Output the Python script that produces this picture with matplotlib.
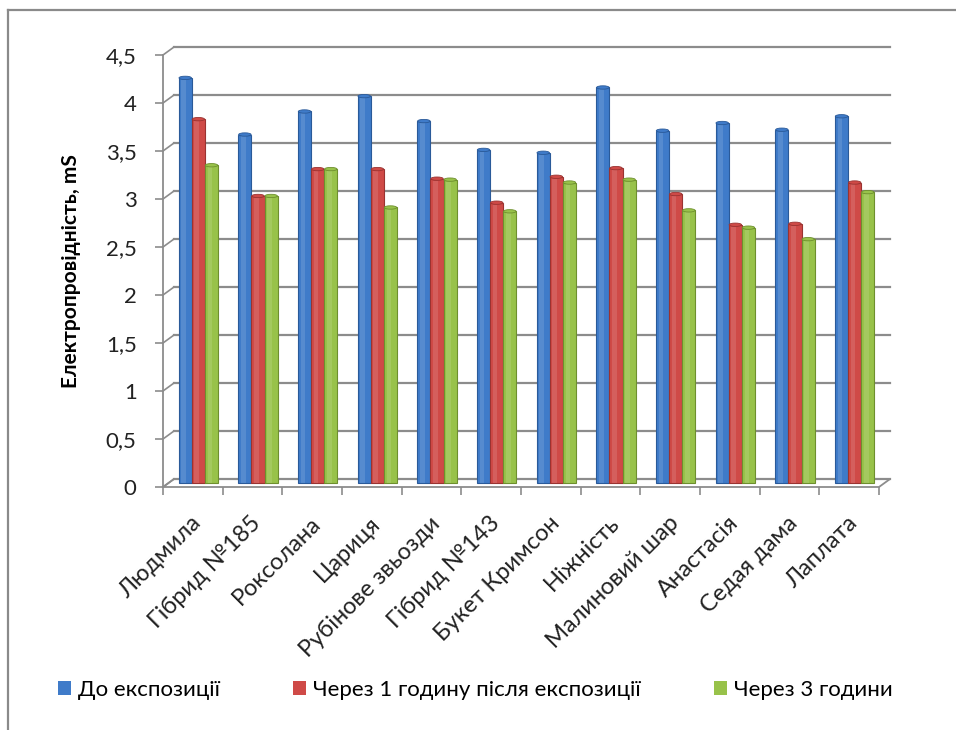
import matplotlib
matplotlib.use('Agg')
import matplotlib.pyplot as plt
from matplotlib.patches import Patch, Ellipse, Polygon
from matplotlib.lines import Line2D

plt.rcParams['font.family'] = ['Lato', 'DejaVu Sans']

varieties = ['Людмила', 'Гібрид №185', 'Роксолана', 'Цариця', 'Рубінове звьозди',
             'Гібрид №143', 'Букет Кримсон', 'Ніжність', 'Малиновий шар',
             'Анастасія', 'Седая дама', 'Лаплата']
before = [4.22, 3.63, 3.87, 4.03, 3.77, 3.47, 3.44, 4.12, 3.67, 3.75, 3.68, 3.82]
after_1h = [3.79, 2.99, 3.27, 3.27, 3.17, 2.92, 3.19, 3.28, 3.01, 2.69, 2.70, 3.13]
after_3h = [3.31, 2.99, 3.27, 2.87, 3.16, 2.83, 3.13, 3.16, 2.84, 2.66, 2.54, 3.03]

series_names = ['До експозиції', 'Через 1 годину після експозиції', 'Через 3 години']
colors = ['#3f7bc9', '#cf4a47', '#98c24a']
edges = ['#2a5a99', '#9a3331', '#6e8f2e']
yticks = [0, 0.5, 1, 1.5, 2, 2.5, 3, 3.5, 4, 4.5]
ytick_labels = ['0', '0,5', '1', '1,5', '2', '2,5', '3', '3,5', '4', '4,5']

W, H = 956, 730
fig = plt.figure(figsize=(W / 100, H / 100), dpi=100)
left_px, right_px, bottom_px, top_px = 163, 879, 487, 55
ax = fig.add_axes([left_px / W, 1 - bottom_px / H,
                   (right_px - left_px) / W, (bottom_px - top_px) / H])
n = len(varieties)
ax.set_xlim(-0.5, n - 0.5)
ax.set_ylim(0, 4.5)
for s in ax.spines.values():
    s.set_visible(False)

# depth offset of the back wall, in data units
px_x = (right_px - left_px) / n
px_y = (bottom_px - top_px) / 4.5
dx, dy = 11 / px_x, 8 / px_y
grid_c = '#8c8c8c'

# back wall gridlines and the slanted lines on the left wall
for v in yticks:
    ax.plot([-0.5 + dx, n - 0.5 + dx], [v + dy, v + dy], color=grid_c, lw=1.6,
            clip_on=False, zorder=1)
    ax.plot([-0.5, -0.5 + dx], [v, v + dy], color=grid_c, lw=1.2,
            clip_on=False, zorder=1)
# floor
ax.add_patch(Polygon([(-0.5, 0), (n - 0.5, 0), (n - 0.5 + dx, dy), (-0.5 + dx, dy)],
                     closed=True, fill=False, edgecolor=grid_c, lw=1.3,
                     clip_on=False, zorder=1))
# left axis line
ax.plot([-0.5, -0.5], [0, 4.5], color=grid_c, lw=1.3, clip_on=False, zorder=1)

# bars
bw = 0.22
for k, vals in enumerate([before, after_1h, after_3h]):
    for i, v in enumerate(vals):
        x = i + dx / 2 + (k - 1) * bw
        ax.bar(x, v, width=bw, bottom=dy / 2, color=colors[k], edgecolor=edges[k],
               lw=0.8, zorder=3)
        ax.bar(x - bw * 0.12, v - 0.02, width=bw * 0.35, bottom=dy / 2,
               color='white', alpha=0.12, lw=0, zorder=4)
        ax.add_patch(Ellipse((x, v + dy / 2), bw * 0.95, 0.035, facecolor=colors[k],
                             edgecolor=edges[k], lw=0.6, zorder=5))

ax.set_yticks(yticks)
ax.set_yticklabels(ytick_labels, fontsize=16, color='#222222')
ax.tick_params(axis='y', length=6, width=1.2, color=grid_c, pad=13)
ax.set_xticks([i - 0.5 for i in range(n + 1)])
ax.set_xticklabels([])
ax.tick_params(axis='x', length=6, width=1.2, color=grid_c, direction='out')
ax.set_ylabel('Електропровідність, mS', fontsize=15, fontweight='bold', labelpad=18)

for i, name in enumerate(varieties):
    ax.text(i + 5 / px_x, -33 / px_y, name, rotation=45, ha='right', va='center',
            rotation_mode='anchor', fontsize=17, color='#222222')

handles = [Patch(facecolor=c, edgecolor='none') for c in colors]
fig.legend(handles, series_names, loc='center', bbox_to_anchor=(0.497, 1 - 690 / H),
           ncol=3, frameon=False, fontsize=16, handlelength=0.6, handleheight=0.6,
           handletextpad=0.3, columnspacing=3.3)

# chart frame
fig.add_artist(Line2D([8 / W, 8 / W], [0, 1 - 10 / H], color='#8a8a8a', lw=1.6))
fig.add_artist(Line2D([8 / W, 1], [1 - 10 / H, 1 - 10 / H], color='#8a8a8a', lw=1.6))

fig.savefig('out.png', dpi=100)
